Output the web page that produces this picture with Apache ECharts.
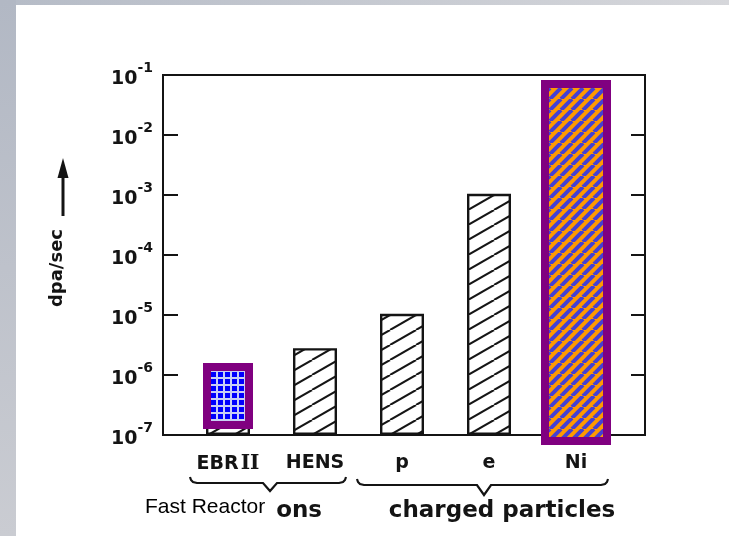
<!DOCTYPE html>
<html><head><meta charset="utf-8">
<script src="https://cdn.jsdelivr.net/npm/echarts@6/dist/echarts.min.js"></script>
<style>html,body{margin:0;padding:0;background:#fff}#c{width:729px;height:536px}</style>
</head><body><div id="c"></div>
<script>
// ---- data ----
const categories = ['EBR II', 'HENS', 'p', 'e', 'Ni'];
const dpaPerSec = [1.2e-6, 2.8e-6, 1.05e-5, 1.05e-3, 5e-2];
const yTickExponents = [-7, -6, -5, -4, -3, -2, -1];
const overlayCategory = [0, 4];
const overlayLow = [1.26e-7, 6.8e-8];
const overlayHigh = [1.58e-6, 8.26e-2];
const groupLabels = ['neutrons', 'charged particles'];
const annotationText = 'Fast Reactor';
const yAxisTitle = 'dpa/sec';

// ---- patterns (style) ----
function makeHatch() {
  const W = 26, H = 15, c = document.createElement('canvas');
  c.width = W; c.height = H;
  const g = c.getContext('2d');
  g.fillStyle = '#fff'; g.fillRect(0, 0, W, H);
  g.strokeStyle = '#151515'; g.lineWidth = 2;
  [[0,0],[-W,0],[W,0]].forEach(([dx, dy]) => {
    g.beginPath(); g.moveTo(dx, H + dy); g.lineTo(W + dx, dy); g.stroke();
  });
  return c;
}
function makeStripes() {
  const S = 11, c = document.createElement('canvas');
  c.width = S; c.height = S;
  const g = c.getContext('2d');
  g.fillStyle = '#FF9A00'; g.fillRect(0, 0, S, S);
  g.strokeStyle = '#4440D4'; g.lineWidth = 4;
  [[0,0],[-S,0],[S,0]].forEach(([dx, dy]) => {
    g.beginPath(); g.moveTo(dx, S + dy); g.lineTo(S + dx, dy); g.stroke();
  });
  return c;
}
function makeGrid() {
  const T = 7, c = document.createElement('canvas');
  c.width = T; c.height = T;
  const g = c.getContext('2d');
  g.fillStyle = '#C9CFF4'; g.fillRect(0, 0, T, T);
  g.fillStyle = '#0000FF'; g.fillRect(1, 1, 5, 5);
  return c;
}
const hatchFill = { image: makeHatch(), repeat: 'repeat' };
const overlayFills = [{ image: makeGrid(), repeat: 'repeat' }, { image: makeStripes(), repeat: 'repeat' }];
const overlayWidths = [50, 70];
const overlayBorder = 8;

const overlayData = overlayCategory.map((c, i) => [c, overlayLow[i], overlayHigh[i]]);

const chart = echarts.init(document.getElementById('c'), null, { renderer: 'canvas' });
const ink = '#141414';
const font = 'DejaVu Sans';
const yMin = Math.pow(10, yTickExponents[0]);
const yMax = Math.pow(10, yTickExponents[yTickExponents.length - 1]);

function brace(x0, x1, xc, y, depth) {
  return [[x0, y - 6], [x0 + 1, y - 3], [x0 + 3, y - 1], [x0 + 7, y], [xc - 7, y], [xc, y + depth], [xc + 7, y],
          [x1 - 7, y], [x1 - 3, y - 1], [x1 - 1, y - 3], [x1, y - 6]];
}

const option = {
  backgroundColor: '#fff',
  animation: false,
  grid: [
    { left: 163, right: 84, top: 75, bottom: 101, show: true, borderColor: ink, borderWidth: 2, backgroundColor: 'transparent' },
    { left: 184.5, right: 109.5, top: 75, bottom: 101 }
  ],
  xAxis: [
    { gridIndex: 0, type: 'value', min: 0, max: 1, show: false },
    { gridIndex: 1, type: 'category', data: categories,
      axisLine: { show: false }, axisTick: { show: false }, splitLine: { show: false },
      axisLabel: {
        interval: 0, hideOverlap: false,
        margin: 19, fontSize: 19, fontWeight: 'bold', color: ink, fontFamily: font,
        formatter: v => v.replace(/ II$/, '{r|II}'),
        rich: { r: { fontSize: 20, fontWeight: 'bold', fontFamily: 'DejaVu Serif', color: ink, padding: [0, 0, 0, 2] } }
      } }
  ],
  yAxis: [
    { gridIndex: 0, type: 'log', logBase: 10, min: yMin, max: yMax, interval: 1, splitNumber: 6,
      axisLine: { show: false },
      axisTick: { show: true, inside: true, length: 15, lineStyle: { color: ink, width: 2 } },
      splitLine: { show: false }, minorTick: { show: false },
      axisLabel: {
        margin: 10,
        formatter: v => '{b|10}{s|-' + Math.abs(Math.round(Math.log10(v))) + '}',
        rich: {
          b: { fontSize: 19, fontWeight: 'bold', fontFamily: font, color: ink, padding: [8, 0, 0, 0] },
          s: { fontSize: 14, fontWeight: 'bold', fontFamily: font, color: ink, verticalAlign: 'top' }
        }
      } },
    { gridIndex: 0, type: 'log', logBase: 10, min: yMin, max: yMax, interval: 1, position: 'right',
      axisLine: { show: false },
      axisTick: { show: true, inside: true, length: 14, lineStyle: { color: ink, width: 2 } },
      axisLabel: { show: false }, splitLine: { show: false } },
    { gridIndex: 1, type: 'log', logBase: 10, min: yMin, max: yMax, interval: 1, startValue: yMin, show: false }
  ],
  series: [
    { type: 'bar', xAxisIndex: 1, yAxisIndex: 2, data: dpaPerSec, barWidth: 44,
      itemStyle: { color: hatchFill, borderColor: ink, borderWidth: 2.4 } },
    { type: 'custom', xAxisIndex: 1, yAxisIndex: 2, data: overlayData, z: 10, clip: false,
      renderItem: (params, api) => {
        const i = params.dataIndex;
        const c = api.value(0);
        const top = api.coord([c, api.value(2)]);
        const bot = api.coord([c, api.value(1)]);
        const w = overlayWidths[i], b = overlayBorder;
        const x = top[0] - w / 2, h = bot[1] - top[1];
        return { type: 'group', children: [
          { type: 'rect', shape: { x: x, y: top[1], width: w, height: h }, style: { fill: '#800080' } },
          { type: 'rect', shape: { x: x + b, y: top[1] + b, width: w - 2 * b, height: h - 2 * b }, style: { fill: overlayFills[i] } }
        ] };
      } }
  ],
  graphic: [
    { type: 'rect', z: -10, shape: { x: 0, y: 0, width: 16, height: 536 },
      style: { fill: new echarts.graphic.LinearGradient(0, 0, 0, 1, [{ offset: 0, color: '#B2B8C4' }, { offset: 1, color: '#CACCD2' }]) } },
    { type: 'rect', z: -10, shape: { x: 16, y: 0, width: 713, height: 5 },
      style: { fill: new echarts.graphic.LinearGradient(0, 0, 1, 0, [{ offset: 0, color: '#B6BCC7' }, { offset: 1, color: '#D6D7DB' }]) } },
    // y axis title and arrow
    { type: 'text', x: 57, y: 268, rotation: Math.PI / 2,
      style: { text: yAxisTitle, fontSize: 18, fontWeight: 'bold', fontFamily: font, fill: ink, align: 'center', verticalAlign: 'middle' } },
    { type: 'line', shape: { x1: 63, y1: 216, x2: 63, y2: 172 }, style: { stroke: ink, lineWidth: 3 } },
    { type: 'polygon', shape: { points: [[63, 158], [57.5, 178], [68.5, 178]] }, style: { fill: ink } },
    // braces
    { type: 'polyline', shape: { points: brace(190, 346, 270, 483, 8) }, style: { stroke: ink, lineWidth: 2.2, fill: null } },
    { type: 'polyline', shape: { points: brace(357, 608, 484, 485, 10) }, style: { stroke: ink, lineWidth: 2.2, fill: null } },
    // group labels
    { type: 'text', x: 322, y: 511, z: 1,
      style: { text: groupLabels[0], fontSize: 23, fontWeight: 'bold', fontFamily: font, fill: ink, align: 'right', verticalAlign: 'middle' } },
    { type: 'text', x: 502, y: 511, z: 1,
      style: { text: groupLabels[1], fontSize: 23, fontWeight: 'bold', fontFamily: font, fill: ink, align: 'center', verticalAlign: 'middle' } },
    // Fast Reactor annotation covering part of the label
    { type: 'rect', z: 5, shape: { x: 138, y: 496, width: 139, height: 28 }, style: { fill: '#fff' } },
    { type: 'text', x: 145, y: 507, z: 6,
      style: { text: annotationText, fontSize: 21, fontFamily: 'Liberation Sans', fill: '#000', align: 'left', verticalAlign: 'middle' } }
  ]
};
chart.setOption(option);
</script>
</body></html>
